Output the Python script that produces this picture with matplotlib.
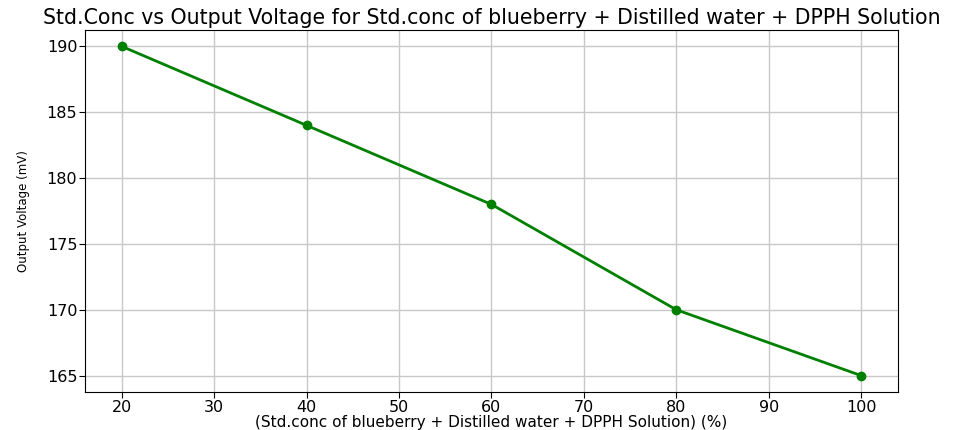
import matplotlib
matplotlib.use("Agg")
import matplotlib.pyplot as plt

conc = [20, 40, 60, 80, 100]
voltage = [190, 184, 178, 170, 165]
title = "Std.Conc vs Output Voltage for Std.conc of blueberry + Distilled water + DPPH Solution"
xlabel = "(Std.conc of blueberry + Distilled water + DPPH Solution) (%)"
ylabel = "Output Voltage (mV)"

fig = plt.figure(figsize=(9.7, 4.3), dpi=100)
ax = fig.add_axes([85/970, 1-392/430, (898-85)/970, (392-30)/430])
ax.plot(conc, voltage, color="green", marker="o", linewidth=2, markersize=6)
ax.grid(True, color="#c8c8c8", linewidth=1)
ax.set_axisbelow(True)
ax.set_title(title, fontsize=14.8, pad=4)
ax.set_xlabel(xlabel, fontsize=11, labelpad=0)
ax.set_ylabel(ylabel, fontsize=8.5, labelpad=12)
ax.tick_params(labelsize=11.5, pad=1.5, length=4)
fig.savefig("out.png", dpi=100)
